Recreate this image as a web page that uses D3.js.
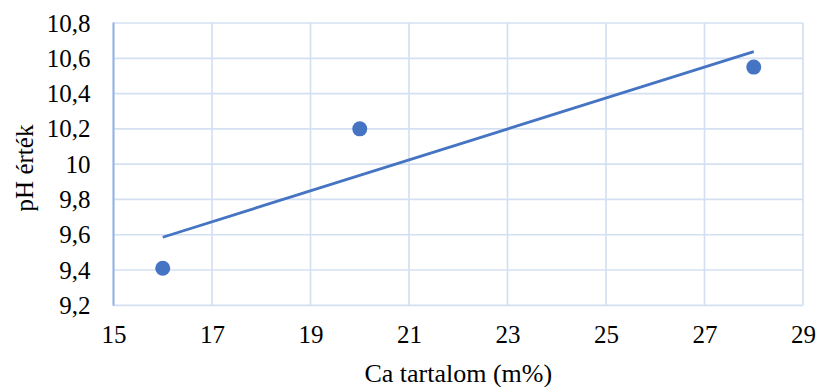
<!DOCTYPE html>
<html>
<head>
<meta charset="utf-8">
<script src="https://cdn.jsdelivr.net/npm/d3@7"></script>
<style>
  html, body { margin: 0; padding: 0; background: #fff; }
  svg { display: block; }
  svg text { font-family: "Liberation Serif", "Times New Roman", serif !important; fill: #000; }
</style>
</head>
<body>
<svg id="chart" width="817" height="387"></svg>
<script>
// Measured samples: Ca content (m%) vs. pH
const caContent = [16, 20, 28];
const phValues = [9.41, 10.2, 10.55];
const xTicks = [15, 17, 19, 21, 23, 25, 27, 29];
const yTicks = [9.2, 9.4, 9.6, 9.8, 10, 10.2, 10.4, 10.6, 10.8];
const xTitle = "Ca tartalom (m%)";
const yTitle = "pH érték";

const svg = d3.select("#chart");
const plotLeft = 113.5, plotRight = 803, plotTop = 23, plotBottom = 305.3;
const serif = "'Liberation Serif', 'Times New Roman', serif";

const x = d3.scaleLinear().domain([15, 29]).range([plotLeft, plotRight]);
const y = d3.scaleLinear().domain([9.2, 10.8]).range([plotBottom, plotTop]);

const gridColor = "#d4e0f2";
const accent = "#4574c2";
const fmt = v => String(+v.toFixed(1)).replace(".", ",");

// vertical grid lines at the labelled ticks
svg.append("g")
  .selectAll("line")
  .data(xTicks)
  .join("line")
  .attr("x1", d => x(d)).attr("x2", d => x(d))
  .attr("y1", plotTop).attr("y2", plotBottom)
  .attr("stroke", gridColor).attr("stroke-width", 1.7);

// horizontal grid lines
svg.append("g")
  .selectAll("line")
  .data(yTicks)
  .join("line")
  .attr("x1", plotLeft).attr("x2", plotRight)
  .attr("y1", d => y(d)).attr("y2", d => y(d))
  .attr("stroke", gridColor).attr("stroke-width", 1.7);

// vertical value axis line
svg.append("line")
  .attr("x1", plotLeft).attr("x2", plotLeft)
  .attr("y1", plotTop - 0.5).attr("y2", plotBottom + 0.5)
  .attr("stroke", "#8fb4e6").attr("stroke-width", 2);

// y axis labels
const yAxis = d3.axisLeft(y).tickValues(yTicks).tickFormat(fmt).tickSize(0).tickPadding(23);
svg.append("g")
  .attr("transform", `translate(${plotLeft},0)`)
  .call(yAxis)
  .attr("font-family", serif)
  .call(g => g.select(".domain").remove())
  .call(g => g.selectAll("text")
    .style("font-family", serif)
    .style("font-size", "25px")
    .attr("fill", "#000"));

// x axis labels
const xAxis = d3.axisBottom(x).tickValues(xTicks).tickFormat(d3.format("d")).tickSize(0).tickPadding(20);
svg.append("g")
  .attr("transform", `translate(0,${plotBottom})`)
  .call(xAxis)
  .attr("font-family", serif)
  .call(g => g.select(".domain").remove())
  .call(g => g.selectAll("text")
    .style("font-family", serif)
    .style("font-size", "25px")
    .attr("fill", "#000"));

// linear trendline (least squares)
const n = caContent.length;
const mx = d3.mean(caContent), my = d3.mean(phValues);
let sxy = 0, sxx = 0;
for (let i = 0; i < n; i++) {
  sxy += (caContent[i] - mx) * (phValues[i] - my);
  sxx += (caContent[i] - mx) ** 2;
}
const slope = sxy / sxx, intercept = my - slope * mx;
const xMin = d3.min(caContent), xMax = d3.max(caContent);
svg.append("path")
  .datum([xMin, xMax])
  .attr("d", d3.line().x(d => x(d)).y(d => y(intercept + slope * d)))
  .attr("fill", "none")
  .attr("stroke", accent)
  .attr("stroke-width", 2.8);

// data points
svg.append("g")
  .selectAll("circle")
  .data(caContent.map((c, i) => [c, phValues[i]]))
  .join("circle")
  .attr("cx", d => x(d[0]))
  .attr("cy", d => y(d[1]))
  .attr("r", 7.5)
  .attr("fill", accent);

// axis titles
svg.append("text")
  .attr("x", (plotLeft + plotRight) / 2)
  .attr("y", 382)
  .attr("text-anchor", "middle")
  .style("font-family", serif)
  .style("font-size", "26px")
  .text(xTitle);

svg.append("text")
  .attr("transform", `translate(33,168) rotate(-90)`)
  .attr("text-anchor", "middle")
  .style("font-family", serif)
  .style("font-size", "25px")
  .text(yTitle);
</script>
</body>
</html>
